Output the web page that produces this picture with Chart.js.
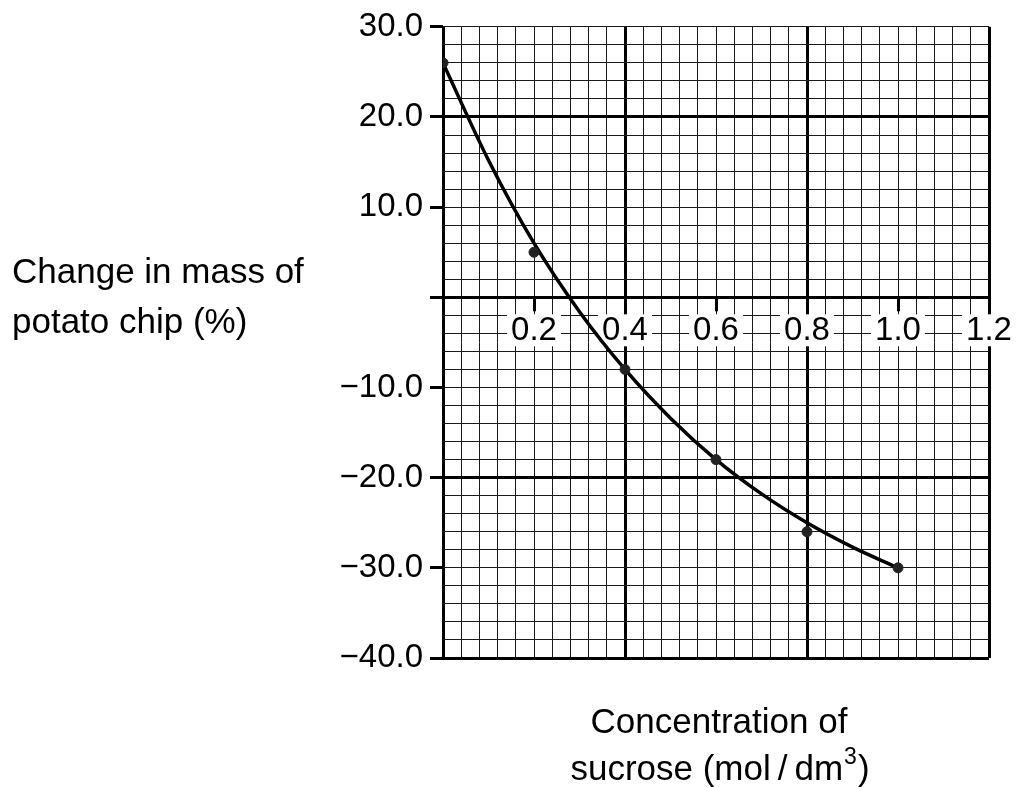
<!DOCTYPE html>
<html>
<head>
<meta charset="utf-8">
<script src="https://cdn.jsdelivr.net/npm/chart.js@4.4.1/dist/chart.umd.min.js"></script>
<style>
  html, body { margin: 0; padding: 0; background: #fff; }
  #wrap { width: 1022px; height: 787px; position: relative; }
</style>
</head>
<body>
<div id="wrap"><canvas id="mainChart"></canvas></div>
<script>
// measured points
const concentrations = [0, 0.2, 0.4, 0.6, 0.8, 1.0];
const massChange = [26, 5, -8, -18, -26, -30];

// best-fit curve
const curveX = [0, 0.1, 0.2, 0.3, 0.4, 0.5, 0.6, 0.7, 0.8, 0.9, 1.0];
const curveY = [26, 15.2, 6, -1.6, -8, -13.4, -18, -21.8, -25, -27.7, -30];

const xTickLabels = ['0.2', '0.4', '0.6', '0.8', '1.0', '1.2'];
const yTickValues = [30, 20, 10, -10, -20, -30, -40];

const FONT = '"Liberation Sans", Arial, sans-serif';

const isMultiple = (v, step) => Math.abs(v / step - Math.round(v / step)) < 1e-6;

const overlayText = {
    id: 'overlayText',
    beforeDatasetsDraw(chart) {
        const { ctx, scales: { x, y } } = chart;
        const y0 = y.getPixelForValue(0);
        ctx.save();
        // tick marks hanging under the zero line
        ctx.strokeStyle = '#000';
        ctx.lineWidth = 3;
        xTickLabels.forEach(t => {
            const px = Math.round(x.getPixelForValue(parseFloat(t))) + 0.5;
            ctx.beginPath();
            ctx.moveTo(px, y0);
            ctx.lineTo(px, y0 + 14);
            ctx.stroke();
        });
        // labels on white boxes
        ctx.font = '33px ' + FONT;
        ctx.textAlign = 'center';
        ctx.textBaseline = 'middle';
        xTickLabels.forEach(t => {
            const px = x.getPixelForValue(parseFloat(t));
            const w = ctx.measureText(t).width;
            ctx.fillStyle = '#fff';
            ctx.fillRect(px - w / 2 - 4, y0 + 17, w + 8, 32);
            ctx.fillStyle = '#000';
            ctx.fillText(t, px, y0 + 34);
        });
        ctx.restore();
    },
    afterDraw(chart) {
        const { ctx } = chart;
        ctx.save();
        ctx.fillStyle = '#000';
        ctx.font = '35px ' + FONT;
        ctx.textBaseline = 'middle';
        ctx.textAlign = 'left';
        ctx.fillText('Change in mass of', 12, 273);
        ctx.fillText('potato chip (%)', 12, 323);

        ctx.textAlign = 'center';
        ctx.fillText('Concentration of', 719, 723);

        // second line with superscript
        const a = 'sucrose (mol\u2009/\u2009dm', s = '3', b = ')';
        ctx.font = '35px ' + FONT;
        const wa = ctx.measureText(a).width, wb = ctx.measureText(b).width;
        ctx.font = '23px ' + FONT;
        const ws = ctx.measureText(s).width;
        let left = 719 - (wa + ws + wb) / 2;
        ctx.textAlign = 'left';
        ctx.font = '35px ' + FONT;
        ctx.fillText(a, left, 770);
        ctx.font = '23px ' + FONT;
        ctx.fillText(s, left + wa + 1, 758);
        ctx.font = '35px ' + FONT;
        ctx.fillText(b, left + wa + ws + 2, 770);
        ctx.restore();
    }
};

new Chart(document.getElementById('mainChart').getContext('2d'), {
    type: 'scatter',
    data: {
        datasets: [
            {
                label: 'Points',
                data: concentrations.map((c, i) => ({ x: c, y: massChange[i] })),
                backgroundColor: '#222',
                borderColor: '#222',
                pointRadius: 5,
                pointHoverRadius: 5,
                order: 0
            },
            {
                label: 'Curve',
                type: 'line',
                data: curveX.map((c, i) => ({ x: c, y: curveY[i] })),
                borderColor: '#000',
                borderWidth: 3.5,
                pointRadius: 0,
                fill: false,
                cubicInterpolationMode: 'monotone',
                order: 1
            }
        ]
    },
    options: {
        responsive: true,
        maintainAspectRatio: false,
        animation: false,
        layout: { padding: { left: 0, right: 33, top: 25, bottom: 129 } },
        plugins: {
            legend: { display: false },
            tooltip: { enabled: false }
        },
        scales: {
            x: {
                type: 'linear',
                min: 0,
                max: 1.2,
                border: { display: false },
                ticks: { display: false, stepSize: 0.04, autoSkip: false },
                grid: {
                    drawTicks: false,
                    color: ctx => isMultiple(ctx.tick.value, 0.4) ? '#000' : '#1a1a1a',
                    lineWidth: ctx => isMultiple(ctx.tick.value, 0.4) ? 3 : 1
                },
                afterFit(scale) { scale.height = 0; }
            },
            y: {
                min: -40,
                max: 30,
                border: { display: false },
                ticks: {
                    stepSize: 2,
                    autoSkip: false,
                    padding: 7,
                    color: '#000',
                    font: { size: 33, family: FONT },
                    callback: v => yTickValues.includes(v) ? v.toFixed(1).replace('-', '\u2212') : ''
                },
                grid: {
                    tickLength: 13,
                    color: ctx => isMultiple(ctx.tick.value, 20) ? '#000' : '#1a1a1a',
                    lineWidth: ctx => isMultiple(ctx.tick.value, 20) ? 3 : 1,
                    tickColor: ctx => isMultiple(ctx.tick.value, 10) ? '#000' : 'rgba(0,0,0,0)',
                    tickWidth: 3
                },
                afterFit(scale) { scale.width = 443; }
            }
        }
    },
    plugins: [overlayText]
});
</script>
</body>
</html>
